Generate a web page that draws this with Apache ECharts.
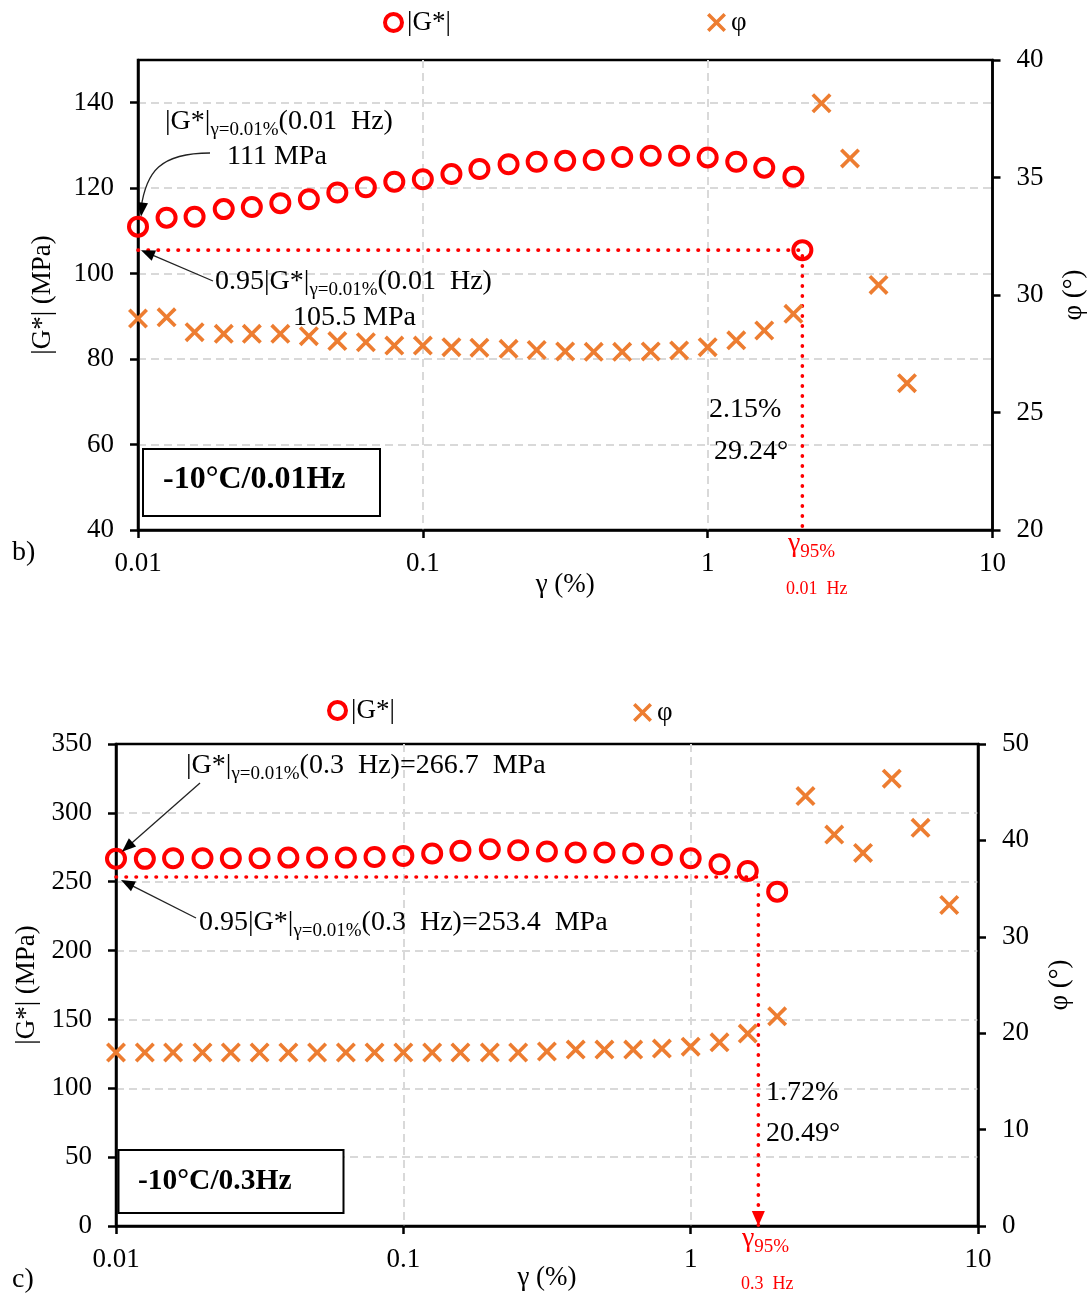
<!DOCTYPE html>
<html><head><meta charset="utf-8">
<script src="https://cdn.jsdelivr.net/npm/echarts@6/dist/echarts.min.js"></script>
<style>html,body{margin:0;padding:0;background:#fff}#c{width:1092px;height:1297px}</style>
</head><body><div id="c"></div>
<script>
// ---------- data ----------
const xTickLabels = ['0.01', '0.1', '1', '10'];
// panel b) -10°C / 0.01 Hz
const strainB = [0.01,0.0126,0.0158,0.02,0.0251,0.0316,0.0398,0.0501,0.0631,0.0794,0.1,0.126,0.158,0.2,0.251,0.316,0.398,0.501,0.631,0.794,1,1.26,1.58,2.0,2.51,3.16,3.98,5.01];
const gStarB = [111,113.1,113.3,115.1,115.6,116.5,117.4,119.0,120.2,121.5,122.1,123.3,124.5,125.6,126.2,126.4,126.6,127.3,127.6,127.6,127.2,126.2,124.8,122.7];
const phiB = [29.0,29.05,28.42,28.35,28.35,28.35,28.25,28.04,27.99,27.85,27.85,27.78,27.76,27.71,27.66,27.6,27.58,27.58,27.6,27.64,27.78,28.07,28.49,29.2,38.16,35.81,30.43,26.25];
const refB = { g0: 111, g95: 105.5, gamma95: 2.15, phi95: 29.24 };
// panel c) -10°C / 0.3 Hz
const strainC = [0.01,0.0126,0.0158,0.02,0.0251,0.0316,0.0398,0.0501,0.0631,0.0794,0.1,0.126,0.158,0.2,0.251,0.316,0.398,0.501,0.631,0.794,1,1.26,1.58,2.0,2.51,3.16,3.98,5.01,6.31,7.94];
const gStarC = [266.7,266.6,267.0,267.0,267.0,267.0,267.5,267.5,267.5,268.0,268.7,270.5,272.4,273.6,272.9,271.9,271.2,271.2,270.5,269.4,267.0,262.7,257.8,242.8];
const phiC = [18.0,18.0,18.0,18.0,18.0,18.0,18.0,18.0,18.0,18.0,18.0,18.0,18.0,18.0,18.0,18.1,18.3,18.3,18.3,18.4,18.6,19.05,19.96,21.75,44.6,40.6,38.7,46.4,41.3,33.3];
const refC = { g0: 266.7, g95: 253.4, gamma95: 1.72, phi95: 20.49 };

// ---------- styling ----------
const F = '"Liberation Serif","Times New Roman",serif';
const RED = '#FF0000', ORANGE = '#ED7D31', GRIDC = '#D9D9D9';
const CROSS = 'path://M2.6,0 L10,7.4 L17.4,0 L20,2.6 L12.6,10 L20,17.4 L17.4,20 L10,12.6 L2.6,20 L0,17.4 L7.4,10 L0,2.6 Z';
const ARROW_DOWN = 'path://M0,0 L12,0 L6,15 Z';

const pairs = (xs, ys) => ys.map((y, i) => [xs[i], y]);

function xAx(gi, gap) {
  return {
    type: 'log', logBase: 10, min: 0.01, max: 10, gridIndex: gi,
    name: 'γ (%)', nameLocation: 'middle', nameGap: gap, nameMoveOverlap: false,
    nameTextStyle: { fontFamily: F, fontSize: 27, color: '#000' },
    axisLine: { show: true, onZero: false, lineStyle: { color: '#000', width: 2.5 } },
    axisTick: { show: true, inside: false, length: 8, lineStyle: { color: '#000', width: 2.5 } },
    minorTick: { show: false }, minorSplitLine: { show: false },
    axisLabel: { margin: 20, color: '#000', fontFamily: F, fontSize: 27,
      formatter: v => xTickLabels[Math.round(Math.log10(v)) + 2] },
    splitLine: { show: true, showMinLine: false, showMaxLine: false, lineStyle: { color: GRIDC, width: 2, type: [8, 5] } }
  };
}
function yAx(gi, pos, min, max, interval, name, gap, split, showMax) {
  return {
    type: 'value', gridIndex: gi, position: pos, min, max, interval,
    name, nameLocation: 'middle', nameGap: gap, nameMoveOverlap: false,
    nameTextStyle: { fontFamily: F, fontSize: 27, color: '#000' },
    axisLine: { show: true, onZero: false, lineStyle: { color: '#000', width: 2.5 } },
    axisTick: { show: true, inside: false, length: 8, lineStyle: { color: '#000', width: 2.5 } },
    axisLabel: { margin: 24, color: '#000', fontFamily: F, fontSize: 27, showMinLabel: true, showMaxLabel: showMax },
    splitLine: { show: split, showMinLine: false, showMaxLine: false, lineStyle: { color: GRIDC, width: 2, type: [8, 5] } }
  };
}
const circleStyle = { color: 'rgba(255,255,255,0)', borderColor: RED, borderWidth: 4, opacity: 1 };
const crossStyle = { color: ORANGE, opacity: 1 };
const legendText = { fontFamily: F, fontSize: 27, color: '#000' };

const chart = echarts.init(document.getElementById('c'), null, { renderer: 'canvas' });
const option = {
  animation: false,
  backgroundColor: '#fff',
  grid: [
    { left: 138, top: 60, width: 854.5, height: 470, show: true, borderColor: '#000', borderWidth: 2.5, containLabel: false, outerBoundsMode: 'none' },
    { left: 116, top: 744, width: 862, height: 482, show: true, borderColor: '#000', borderWidth: 2.5, containLabel: false, outerBoundsMode: 'none' }
  ],
  xAxis: [xAx(0, 41), xAx(1, 38)],
  yAxis: [
    yAx(0, 'left', 40, 150, 20, '|G*| (MPa)', 82, true, false),
    yAx(0, 'right', 20, 40, 5, 'φ (°)', 68, false, true),
    yAx(1, 'left', 0, 350, 50, '|G*| (MPa)', 76, true, true),
    yAx(1, 'right', 0, 50, 10, 'φ (°)', 68, false, true)
  ],
  legend: [
    { data: ['|G*|'], left: 378, top: 4, itemWidth: 17, itemHeight: 17, textStyle: legendText, itemStyle: circleStyle },
    { data: ['φ'], left: 702, top: 4, itemWidth: 19, itemHeight: 19, textStyle: legendText, itemStyle: crossStyle },
    { data: ['|G*|'], left: 322, top: 692, itemWidth: 17, itemHeight: 17, textStyle: legendText, itemStyle: circleStyle },
    { data: ['φ'], left: 628, top: 694, itemWidth: 19, itemHeight: 19, textStyle: legendText, itemStyle: crossStyle }
  ],
  series: [
    // panel b
    { type: 'line', name: 'refB', xAxisIndex: 0, yAxisIndex: 0, z: 2, symbol: 'none', silent: true,
      data: [[strainB[0], refB.g95], [refB.gamma95, refB.g95], [refB.gamma95, 40]],
      lineStyle: { color: RED, width: 3.6, type: [0.5, 9.5], cap: 'round', opacity: 1 } },
    { type: 'scatter', name: '|G*|', xAxisIndex: 0, yAxisIndex: 0, z: 4, symbol: 'circle', symbolSize: 18,
      itemStyle: circleStyle, data: pairs(strainB, gStarB) },
    { type: 'scatter', name: 'G95b', xAxisIndex: 0, yAxisIndex: 0, z: 4, symbol: 'circle', symbolSize: 18,
      itemStyle: circleStyle, data: [[refB.gamma95, refB.g95]] },
    { type: 'scatter', name: 'φ', xAxisIndex: 0, yAxisIndex: 1, z: 3, symbol: CROSS, symbolSize: 20,
      itemStyle: crossStyle, data: pairs(strainB, phiB) },
    // panel c
    { type: 'line', name: 'refC', xAxisIndex: 1, yAxisIndex: 2, z: 2, symbol: 'none', silent: true,
      data: [[strainC[0], refC.g95], [refC.gamma95, refC.g95], [refC.gamma95, 0]],
      lineStyle: { color: RED, width: 3.6, type: [0.5, 9.5], cap: 'round', opacity: 1 } },
    { type: 'scatter', name: 'arrowC', xAxisIndex: 1, yAxisIndex: 2, z: 3, symbol: ARROW_DOWN, symbolSize: [13, 15],
      symbolOffset: [0, -7.5], itemStyle: { color: RED, opacity: 1 }, data: [[refC.gamma95, 0]] },
    { type: 'scatter', name: '|G*|', xAxisIndex: 1, yAxisIndex: 2, z: 4, symbol: 'circle', symbolSize: 18,
      itemStyle: circleStyle, data: pairs(strainC, gStarC) },
    { type: 'scatter', name: 'φ', xAxisIndex: 1, yAxisIndex: 3, z: 3, symbol: CROSS, symbolSize: 20,
      itemStyle: crossStyle, data: pairs(strainC, phiC) }
  ]
};
chart.setOption(option);

// ---------- annotations ----------
const rich = {
  m: { fontFamily: F, fontSize: 28, fill: '#000', color: '#000', lineHeight: 36 },
  s: { fontFamily: F, fontSize: 19, fill: '#000', color: '#000', lineHeight: 16, verticalAlign: 'bottom' },
  rg: { fontFamily: F, fontSize: 28, fill: RED, color: RED, lineHeight: 36 },
  rs: { fontFamily: F, fontSize: 19, fill: RED, color: RED, lineHeight: 16, verticalAlign: 'bottom' }
};
function txt(x, y, text, size, color, weight) {
  return { type: 'text', x, y, z: 20, silent: true,
    style: { text, fontFamily: F, fontSize: size || 28, fontWeight: weight || 'normal', fill: color || '#000',
      align: 'left', verticalAlign: 'middle', rich } };
}
function arrowHead(tip, from, L, W) {
  const dx = tip[0] - from[0], dy = tip[1] - from[1];
  const len = Math.hypot(dx, dy); const ux = dx / len, uy = dy / len;
  const bx = tip[0] - ux * L, by = tip[1] - uy * L;
  const nx = -uy, ny = ux;
  return { type: 'polygon', z: 21, silent: true,
    shape: { points: [tip, [bx + nx * W / 2, by + ny * W / 2], [bx - nx * W / 2, by - ny * W / 2]] },
    style: { fill: '#000' } };
}
function straightArrow(start, tip) {
  const dx = tip[0] - start[0], dy = tip[1] - start[1];
  const len = Math.hypot(dx, dy);
  const end = [tip[0] - dx / len * 10, tip[1] - dy / len * 10];
  return [
    { type: 'line', z: 21, silent: true, shape: { x1: start[0], y1: start[1], x2: end[0], y2: end[1] },
      style: { stroke: '#222', lineWidth: 1.3 } },
    arrowHead(tip, start, 14, 11)
  ];
}
function curvedArrow(start, c1, c2, tip) {
  return [
    { type: 'bezierCurve', z: 21, silent: true,
      shape: { x1: start[0], y1: start[1], cpx1: c1[0], cpy1: c1[1], cpx2: c2[0], cpy2: c2[1], x2: tip[0], y2: tip[1] - 8 },
      style: { stroke: '#222', lineWidth: 1.3, fill: null } },
    arrowHead(tip, c2, 14, 11)
  ];
}
const pB0 = chart.convertToPixel({ xAxisIndex: 0, yAxisIndex: 0 }, [strainB[0], refB.g0]);
const pB95 = chart.convertToPixel({ xAxisIndex: 0, yAxisIndex: 0 }, [strainB[0], refB.g95]);
const pC0 = chart.convertToPixel({ xAxisIndex: 1, yAxisIndex: 2 }, [strainC[0], refC.g0]);
const pC95 = chart.convertToPixel({ xAxisIndex: 1, yAxisIndex: 2 }, [strainC[0], refC.g95]);

const g = [];
// panel b texts
g.push(txt(165, 122, '{m||G*|}{s|γ=0.01%}{m|(0.01  Hz)}'));
g.push(txt(227, 157, '111 MPa'));
g.push(txt(215, 282, '{m|0.95|G*|}{s|γ=0.01%}{m|(0.01  Hz)}'));
g.push(txt(293, 318, '105.5 MPa'));
g.push(txt(709, 410, '2.15%'));
g.push(txt(714, 452, '29.24°'));
g.push(txt(788, 544, '{rg|γ}{rs|95%}', 28, RED));
g.push(txt(786, 589, '0.01  Hz', 18, RED));
g.push({ type: 'rect', z: 19, silent: true, shape: { x: 143, y: 449, width: 237, height: 67 },
  style: { fill: '#fff', stroke: '#000', lineWidth: 2 } });
g.push(txt(163, 480, '-10°C/0.01Hz', 32, '#000', 'bold'));
g.push(txt(12, 553, 'b)', 28));
g.push(...curvedArrow([210, 153], [160, 153], [146, 172], [pB0[0] + 3, pB0[1] - 10]));
g.push(...straightArrow([213, 281], [pB95[0] + 3, pB95[1]]));
// panel c texts
g.push(txt(186, 766, '{m||G*|}{s|γ=0.01%}{m|(0.3  Hz)=266.7  MPa}'));
g.push(txt(199, 923, '{m|0.95|G*|}{s|γ=0.01%}{m|(0.3  Hz)=253.4  MPa}'));
g.push(txt(766, 1093, '1.72%'));
g.push(txt(766, 1134, '20.49°'));
g.push(txt(742, 1239, '{rg|γ}{rs|95%}', 28, RED));
g.push(txt(741, 1284, '0.3  Hz', 18, RED));
g.push({ type: 'rect', z: 19, silent: true, shape: { x: 118.5, y: 1150, width: 225, height: 63 },
  style: { fill: '#fff', stroke: '#000', lineWidth: 2 } });
g.push(txt(138, 1181, '-10°C/0.3Hz', 29.5, '#000', 'bold'));
g.push(txt(12, 1280, 'c)', 28));
g.push(...straightArrow([200, 783], [pC0[0] + 6, pC0[1] - 7]));
g.push(...straightArrow([196, 918], [pC95[0] + 5, pC95[1] + 3]));

chart.setOption({ graphic: { elements: g } });
</script></body></html>
